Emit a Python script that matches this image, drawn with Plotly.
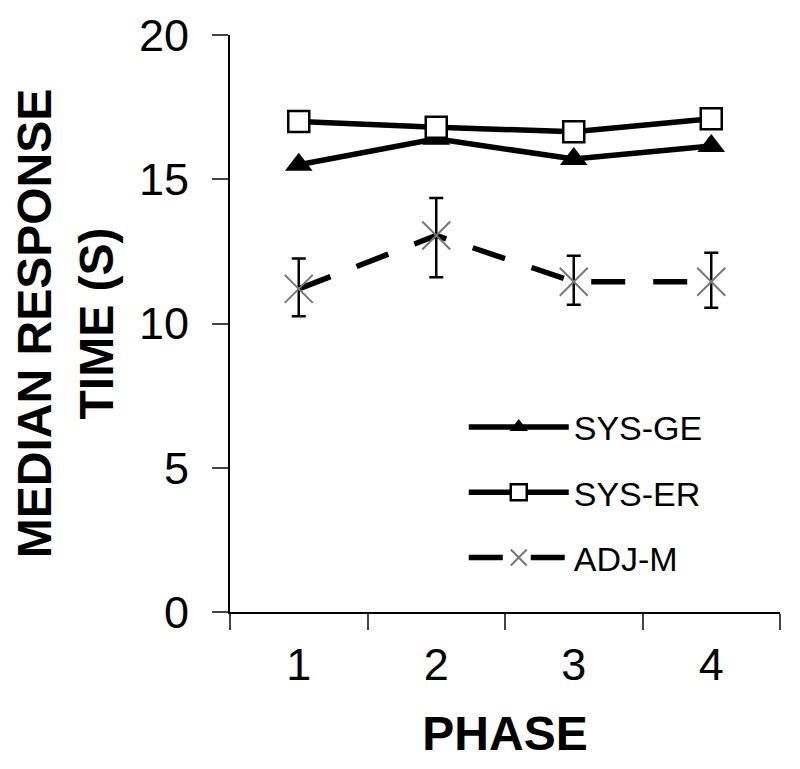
import plotly.graph_objects as go

phases = ["1", "2", "3", "4"]
sys_ge = [15.5, 16.4, 15.7, 16.15]
sys_er = [17.0, 16.8, 16.65, 17.1]
adj_m = [11.2, 13.05, 11.45, 11.45]
adj_m_err_plus = [1.05, 1.3, 0.9, 1.0]
adj_m_err_minus = [0.95, 1.45, 0.8, 0.9]

FONT = "Liberation Sans, Arial, sans-serif"

fig = go.Figure()

fig.add_trace(go.Scatter(
    x=phases, y=sys_ge, name="SYS-GE", mode="lines+markers", legendgroup="a",
    line=dict(color="black", width=5.5),
    marker=dict(symbol="triangle-up", size=24, color="black"),
))
fig.add_trace(go.Scatter(
    x=phases, y=sys_er, name="SYS-ER", mode="lines+markers", legendgroup="b",
    line=dict(color="black", width=5.5),
    marker=dict(symbol="square", size=21, color="white", line=dict(color="black", width=2.5)),
))
fig.add_trace(go.Scatter(
    x=phases, y=adj_m, name="ADJ-M", mode="lines+markers", legendgroup="c",
    line=dict(color="black", width=5.5, dash="34px,28px"),
    marker=dict(symbol="x-thin", size=28, line=dict(color="#777777", width=2)),
    error_y=dict(type="data", symmetric=False, array=adj_m_err_plus, arrayminus=adj_m_err_minus,
                 color="black", thickness=2.5, width=7),
))

# page is drawn with a small body offset, so margins are shifted to compensate
fig.update_layout(
    width=800, height=769,
    margin=dict(l=222, r=28, t=27, b=165, autoexpand=False),
    plot_bgcolor="white", paper_bgcolor="white",
    font=dict(family=FONT, color="black"),
    legend=dict(
        x=0.425, y=0.37, xanchor="left", yanchor="top",
        font=dict(size=34, family=FONT),
        itemwidth=100, traceorder="grouped", tracegroupgap=18,
        bgcolor="rgba(0,0,0,0)",
    ),
)

fig.update_xaxes(
    type="category", range=[-0.5, 3.5], tickson="boundaries", ticks="outside", ticklen=16, tickwidth=2,
    showline=True, linecolor="black", linewidth=2, showgrid=False, zeroline=False,
    tickfont=dict(size=45), ticklabelstandoff=12,
    title=dict(text="<b>PHASE</b>", font=dict(size=48), standoff=27),
)
fig.update_yaxes(
    range=[0, 20], tickvals=[0, 5, 10, 15, 20], ticks="outside", ticklen=16, tickwidth=2,
    showline=True, linecolor="black", linewidth=2, showgrid=False, zeroline=False,
    tickfont=dict(size=45), ticklabelstandoff=14,
    title=dict(text="<b>MEDIAN RESPONSE<br>TIME (S)</b>", font=dict(size=48), standoff=12),
)

fig.write_html("out.html")
